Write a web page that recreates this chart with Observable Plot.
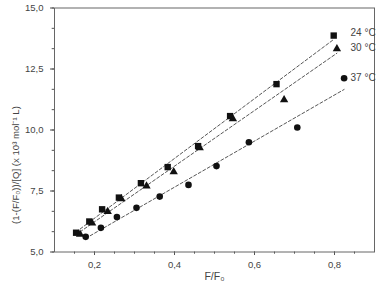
<!DOCTYPE html>
<html>
<head>
<meta charset="utf-8">
<script src="https://cdn.jsdelivr.net/npm/d3@7"></script>
<script src="https://cdn.jsdelivr.net/npm/@observablehq/plot@0.6"></script>
<style>
  html, body { margin: 0; padding: 0; background: #fff; }
  #chart svg { display: block; }
</style>
</head>
<body>
<div id="chart"></div>
<script>
// Data
const x24 = [0.154, 0.187, 0.219, 0.261, 0.316, 0.383, 0.459, 0.539, 0.655, 0.798];
const y24 = [5.79, 6.25, 6.75, 7.23, 7.82, 8.48, 9.34, 10.57, 11.88, 13.87];
const x30 = [0.164, 0.194, 0.233, 0.267, 0.330, 0.398, 0.463, 0.546, 0.674, 0.806];
const y30 = [5.72, 6.18, 6.66, 7.18, 7.70, 8.29, 9.27, 10.46, 11.24, 13.33];
const x37 = [0.178, 0.216, 0.256, 0.305, 0.363, 0.435, 0.505, 0.586, 0.707, 0.824];
const y37 = [5.62, 5.99, 6.43, 6.81, 7.27, 7.75, 8.52, 9.50, 10.10, 12.12];

const seriesLabels = ["24 °C", "30 °C", "37 °C"];
const labelY = [14.0, 13.38, 12.15];
const labelX = 0.84;

const xTicks = [0.2, 0.4, 0.6, 0.8];
const xMinorTicks = d3.range(0.15, 0.9, 0.05);
const yTicks = [5, 7.5, 10, 12.5, 15];
const yMinorTicks = d3.range(5, 15.001, 2.5 / 3);

const xLabel = "F/F₀";
const yLabel = "(1-(F/F₀))/[Q] (x 10³ mol⁻¹ L)";

const mk = (xs, ys) => xs.map((x, i) => ({x, y: ys[i]}));
const d24 = mk(x24, y24), d30 = mk(x30, y30), d37 = mk(x37, y37);
const labels = seriesLabels.map((t, i) => ({t, x: labelX, y: labelY[i]}));

const fmt = d => d.toFixed(1).replace(".", ",");
const ink = "#111";
const gray = "#444";
const dash = "3,2.2";

const plot = Plot.plot({
  width: 382,
  height: 291,
  marginLeft: 54,
  marginTop: 7.5,
  marginRight: 8,
  marginBottom: 39.5,
  style: {fontFamily: "'Liberation Sans', Arial, sans-serif", fontSize: "9.5px", color: gray, background: "#fff"},
  x: {domain: [0.1, 0.9]},
  y: {domain: [5, 15]},
  marks: [
    Plot.axisX({ticks: xMinorTicks, tickSize: 2.2, text: null, stroke: "#555", label: null}),
    Plot.axisX({ticks: xTicks, tickSize: 3.5, tickPadding: 6, tickFormat: fmt, stroke: "#555", fill: gray, label: null, fontSize: 9.5}),
    Plot.axisY({ticks: yMinorTicks, tickSize: 2.3, text: null, stroke: "#555", label: null}),
    Plot.axisY({ticks: yTicks, tickSize: 4, tickPadding: 7, tickFormat: fmt, stroke: "#555", fill: gray, label: null, fontSize: 9.5}),
    Plot.frame({stroke: "#666", strokeWidth: 1}),
    Plot.linearRegressionY(d24, {x: "x", y: "y", stroke: gray, strokeWidth: 0.9, strokeDasharray: dash, ci: 0}),
    Plot.linearRegressionY(d30, {x: "x", y: "y", stroke: gray, strokeWidth: 0.9, strokeDasharray: dash, ci: 0}),
    Plot.linearRegressionY(d37, {x: "x", y: "y", stroke: gray, strokeWidth: 0.9, strokeDasharray: dash, ci: 0}),
    Plot.dot(d24, {x: "x", y: "y", symbol: "square", r: 3.6, fill: ink, stroke: "none"}),
    Plot.dot(d30, {x: "x", y: "y", symbol: "triangle", r: 3.1, fill: ink, stroke: "none"}),
    Plot.dot(d37, {x: "x", y: "y", symbol: "circle", r: 3.3, fill: ink, stroke: "none"}),
    Plot.text(labels, {x: "x", y: "y", text: "t", textAnchor: "start", fill: gray, fontSize: 10}),
    Plot.text([xLabel], {frameAnchor: "bottom", dy: 28, fill: gray, fontSize: 10.5}),
    Plot.text([yLabel], {frameAnchor: "bottom-left", textAnchor: "start", dx: -36, dy: -28, rotate: -90, fill: gray, fontSize: 9.6})
  ]
});
document.getElementById("chart").append(plot);
</script>
</body>
</html>
